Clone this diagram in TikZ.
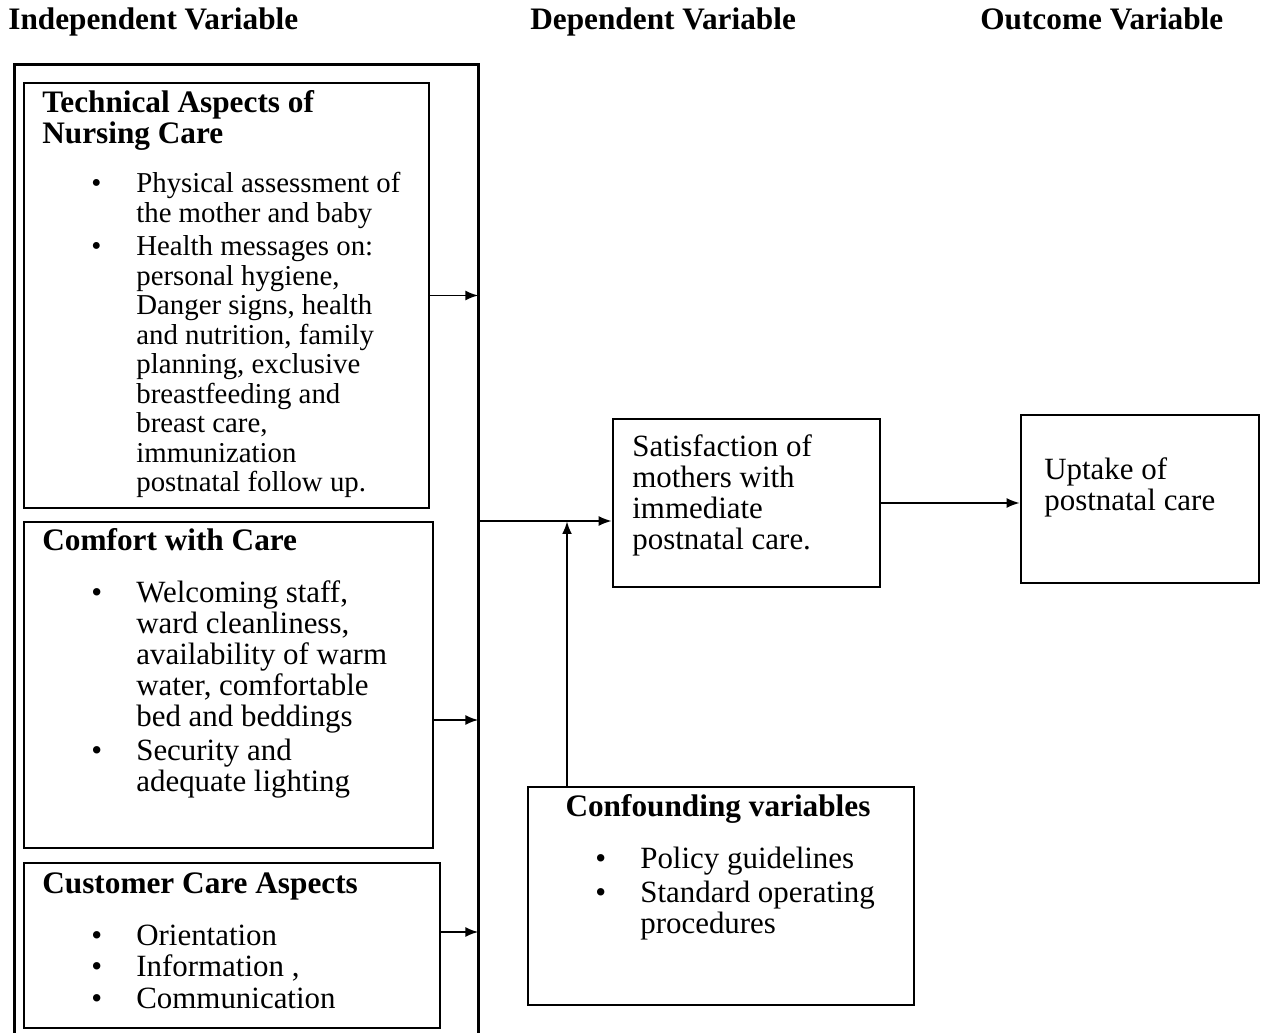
\documentclass[tikz,border=0pt]{standalone}
\usepackage{fontspec}
\setmainfont{Liberation Serif}
\usepackage{array}
\usetikzlibrary{arrows.meta, fit}

% line-by-line text blocks, baseline on the first line
\newcommand{\lines}[1]{\begin{tabular}[t]{@{}l@{}}#1\end{tabular}}
\newcommand{\blist}[1]{\begin{tabular}[t]{@{}p{0.9cm}@{}l@{}}#1\end{tabular}}

\begin{document}
\begin{tikzpicture}[x = 0.02cm, y = -0.02cm, > = {Latex[length = 0.26cm, width = 0.2cm]},
	box/.style = {draw, line width = 1.5pt, inner sep = 0pt},
	arr/.style = {->, line width = 1.1pt},
	heading/.style = {anchor = base west, inner sep = 0pt, font = \bfseries\fontsize{17.8}{20}\selectfont},
	title/.style = {anchor = base west, inner sep = 0pt, font = \bfseries\fontsize{17.8}{17}\selectfont},
	txt/.style = {anchor = base west, inner sep = 0pt, font = \fontsize{17.6}{17.5}\selectfont}]

\useasboundingbox (0, 0) rectangle (1262, 1033);

% Column headings

\node [heading] (hIndep) at (8, 30) {Independent Variable};
\node [heading] (hDep) at (530, 30) {Dependent Variable};
\node [heading] (hOut) at (980, 30) {Outcome Variable};

% Independent variable frame (open at the bottom)

\node [fit = {(15, 65) (478, 1033)}, inner sep = 0pt] (indep) {};
\draw [line width = 1.5pt] (indep.south west) -- (indep.north west) -- (indep.north east) -- (indep.south east);

% Technical aspects

\node [box, fit = {(24, 83) (429, 508)}] (tech) {};
\node [title] (techTitle) at (42, 113) {\lines{Technical Aspects of\\Nursing Care}};
\node [txt, font = \fontsize{16.4}{16.8}\selectfont] (techList) at (91, 193) {\blist{
	\textbullet & Physical assessment of\\
	& the mother and baby\\[2pt]
	\textbullet & Health messages on:\\
	& personal hygiene,\\
	& Danger signs, health\\
	& and nutrition, family\\
	& planning, exclusive\\
	& breastfeeding and\\
	& breast care,\\
	& immunization\\
	& postnatal follow up.}};

% Comfort with care

\node [box, fit = {(24, 522) (433, 848)}] (comfort) {};
\node [title] (comfortTitle) at (42, 551) {Comfort with Care};
\node [txt] (comfortList) at (91, 603) {\blist{
	\textbullet & Welcoming staff,\\
	& ward cleanliness,\\
	& availability of warm\\
	& water, comfortable\\
	& bed and beddings\\[2pt]
	\textbullet & Security and\\
	& adequate lighting}};

% Customer care

\node [box, fit = {(24, 863) (440, 1028)}] (cust) {};
\node [title] (custTitle) at (42, 893) {Customer Care Aspects};
\node [txt, font = \fontsize{17.6}{18.2}\selectfont] (custList) at (91, 945) {\blist{
	\textbullet & Orientation\\
	\textbullet & Information ,\\
	\textbullet & Communication}};

% Dependent and outcome variables

\node [box, fit = {(613, 419) (880, 587)}] (sat) {};
\node [txt] (satText) at (632, 457) {\lines{Satisfaction of\\mothers with\\immediate\\postnatal care.}};

\node [box, fit = {(1021, 415) (1259, 583)}] (uptake) {};
\node [txt] (uptakeText) at (1044, 480) {\lines{Uptake of\\postnatal care}};

% Confounding variables

\node [box, fit = {(528, 787) (914, 1005)}] (conf) {};
\node [title, anchor = base] (confTitle) at (718, 817) {Confounding variables};
\node [txt] (confList) at (595, 868) {\blist{
	\textbullet & Policy guidelines\\[2pt]
	\textbullet & Standard operating\\
	& procedures}};

% Arrows

\coordinate (hComfort) at (0, 720);
\coordinate (hCust) at (0, 932);
\coordinate (join) at (567, 521);

\draw [arr] (tech.east) -- (indep.east |- tech.east);
\draw [arr] (comfort.east |- hComfort) -- (indep.east |- hComfort);
\draw [arr] (cust.east |- hCust) -- (indep.east |- hCust);

\draw [arr] (indep.east |- join) -- (sat.west |- join);
\draw [arr, line width = 1.5pt] (conf.north -| join) -- (join);
\draw [arr] (sat.east) -- (uptake.west |- sat.east);

\end{tikzpicture}
\end{document}
